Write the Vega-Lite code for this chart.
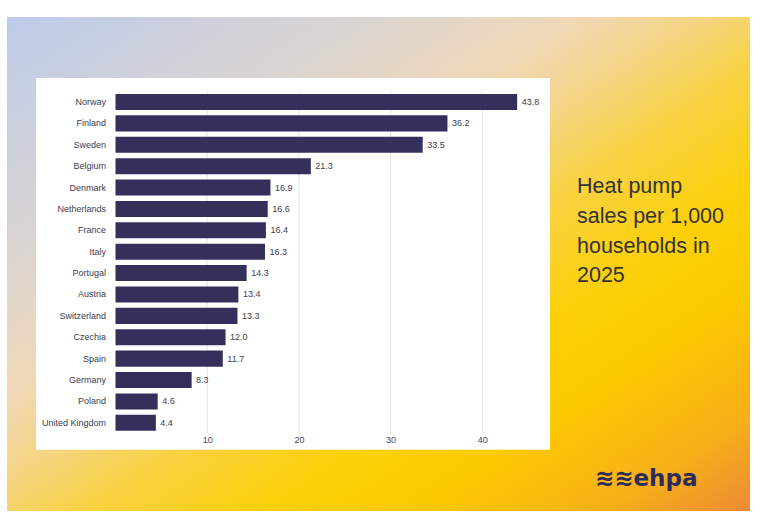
{
  "$schema": "https://vega.github.io/schema/vega-lite/v6.json",
  "width": 743,
  "height": 494,
  "autosize": "none",
  "padding": {"left": 7, "top": 17, "right": 16, "bottom": 20},
  "background": "white",
  "view": {
    "stroke": null,
    "fill": {
      "gradient": "linear",
      "x1": 0, "y1": 0, "x2": 1, "y2": 1,
      "stops": [
        {"offset": 0, "color": "#bdcbea"},
        {"offset": 0.25, "color": "#dbd5d0"},
        {"offset": 0.38, "color": "#f0d8b8"},
        {"offset": 0.46, "color": "#f4d588"},
        {"offset": 0.55, "color": "#f8d244"},
        {"offset": 0.67, "color": "#fcd00a"},
        {"offset": 0.77, "color": "#fcca00"},
        {"offset": 0.9, "color": "#f7b018"},
        {"offset": 1, "color": "#ec8a35"}
      ]
    }
  },
  "title": {
    "text": ["Heat pump", "sales per 1,000", "households in", "2025"],
    "subtitle": "⠀≋≋ehpa",
    "orient": "top",
    "anchor": "start",
    "frame": "group",
    "align": "left",
    "offset": 0,
    "dx": 570,
    "dy": 474,
    "font": "Liberation Sans",
    "fontSize": 21.5,
    "fontWeight": "normal",
    "color": "#333333",
    "lineHeight": 29.7,
    "subtitleFont": "DejaVu Sans",
    "subtitleFontSize": 23,
    "subtitleFontWeight": "bold",
    "subtitleColor": "#2d2b5a",
    "subtitlePadding": 181
  },
  "datasets": {
    "sales": [
      {"country": "Norway", "value": 43.8},
      {"country": "Finland", "value": 36.2},
      {"country": "Sweden", "value": 33.5},
      {"country": "Belgium", "value": 21.3},
      {"country": "Denmark", "value": 16.9},
      {"country": "Netherlands", "value": 16.6},
      {"country": "France", "value": 16.4},
      {"country": "Italy", "value": 16.3},
      {"country": "Portugal", "value": 14.3},
      {"country": "Austria", "value": 13.4},
      {"country": "Switzerland", "value": 13.3},
      {"country": "Czechia", "value": 12.0},
      {"country": "Spain", "value": 11.7},
      {"country": "Germany", "value": 8.3},
      {"country": "Poland", "value": 4.6},
      {"country": "United Kingdom", "value": 4.4}
    ],
    "gridticks": [
      {"tick": 10},
      {"tick": 20},
      {"tick": 30},
      {"tick": 40}
    ]
  },
  "data": {"name": "sales"},
  "layer": [
    {
      "data": {"values": [{}]},
      "mark": {"type": "rect", "color": "white", "yOffset": -16, "y2Offset": 19},
      "encoding": {
        "x": {"datum": -8.67, "type": "quantitative", "title": null},
        "x2": {"datum": 47.38},
        "y": {"datum": "Norway", "type": "nominal", "bandPosition": 0, "title": null},
        "y2": {"datum": "United Kingdom", "bandPosition": 1}
      }
    },
    {
      "data": {"name": "gridticks"},
      "mark": {"type": "rule", "color": "#e4e4e8", "strokeWidth": 1, "yOffset": -2.7, "y2Offset": 2.7},
      "encoding": {
        "x": {"field": "tick", "type": "quantitative", "title": null},
        "y": {"datum": "Norway", "type": "nominal", "bandPosition": 0, "title": null},
        "y2": {"datum": "United Kingdom", "bandPosition": 1}
      }
    },
    {
      "mark": {"type": "bar", "color": "#34305b"},
      "encoding": {
        "y": {
          "field": "country",
          "type": "nominal",
          "title": null,
          "scale": {
            "domain": ["Norway", "Finland", "Sweden", "Belgium", "Denmark", "Netherlands", "France", "Italy", "Portugal", "Austria", "Switzerland", "Czechia", "Spain", "Germany", "Poland", "United Kingdom"],
            "range": [74.3, 416.5],
            "paddingInner": 0.25,
            "paddingOuter": 0.125
          },
          "axis": {
            "title": null,
            "offset": -108.5,
            "domain": false,
            "ticks": false,
            "grid": false,
            "zindex": 1,
            "labelPadding": 10,
            "labelFont": "Liberation Sans",
            "labelFontSize": 9,
            "labelColor": "#3b3b4f"
          }
        },
        "x": {
          "field": "value",
          "type": "quantitative",
          "title": null,
          "scale": {"domain": [0, 47], "range": [108.5, 539.5], "nice": false, "zero": true},
          "axis": {
            "title": null,
            "values": [10, 20, 30, 40],
            "offset": -77.5,
            "domain": false,
            "ticks": false,
            "grid": false,
            "zindex": 1,
            "labelPadding": 2,
            "labelFont": "Liberation Sans",
            "labelFontSize": 9,
            "labelColor": "#444455"
          }
        }
      }
    },
    {
      "mark": {"type": "text", "align": "left", "baseline": "middle", "dx": 4.5, "font": "Liberation Sans", "fontSize": 9, "color": "#3d3d4f"},
      "encoding": {
        "y": {"field": "country", "type": "nominal", "title": null},
        "x": {"field": "value", "type": "quantitative", "title": null},
        "text": {"field": "value", "type": "quantitative", "format": ".1f"}
      }
    }
  ]
}
